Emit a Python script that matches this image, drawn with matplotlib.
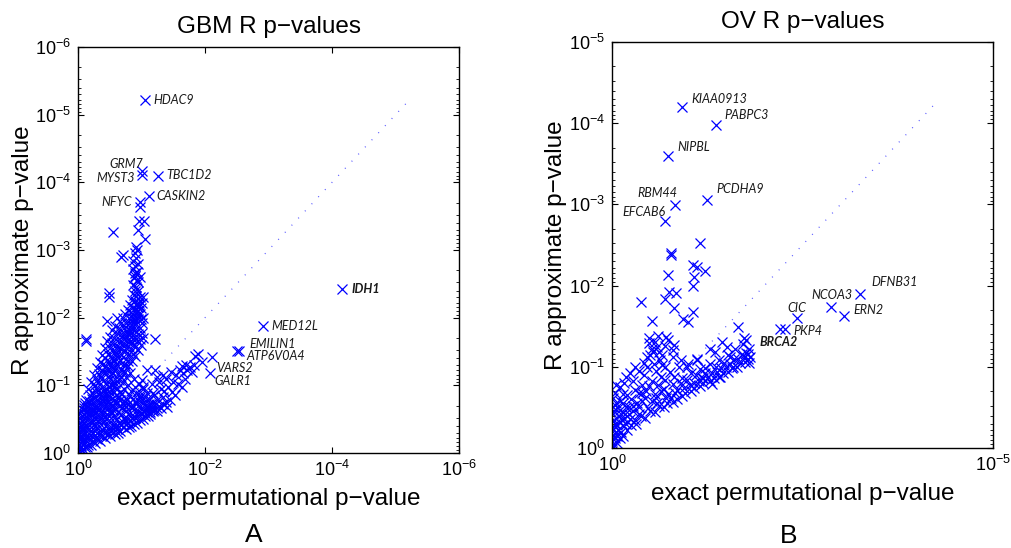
import numpy as np
import matplotlib
matplotlib.use('Agg')
import matplotlib.pyplot as plt
from matplotlib.ticker import FixedLocator, LogLocator, NullLocator, LogFormatterSciNotation

plt.rcParams['font.family'] = ['Liberation Sans', 'DejaVu Sans']
plt.rcParams['mathtext.fontset'] = 'custom'
plt.rcParams['mathtext.rm'] = 'Liberation Sans'
plt.rcParams['mathtext.it'] = 'Liberation Sans:italic'
plt.rcParams['mathtext.bf'] = 'Liberation Sans:bold'

# values are -log10(p): (exact permutational, R approximate)
gbm_pts = [
    # lower band
    (0.00,0.05),(0.03,0.02),(0.08,0.06),(0.14,0.09),(0.20,0.12),(0.27,0.15),(0.34,0.18),(0.42,0.22),
    (0.50,0.25),(0.58,0.28),(0.66,0.32),(0.75,0.36),(0.84,0.40),(0.93,0.45),(1.02,0.50),(1.10,0.55),
    (0.10,0.14),(0.18,0.20),(0.26,0.26),(0.35,0.30),(0.44,0.34),(0.52,0.38),(0.61,0.42),(0.70,0.46),
    (0.79,0.50),(0.88,0.55),(0.96,0.60),(1.05,0.63),(1.12,0.66),(1.18,0.62),
    (0.12,0.25),(0.21,0.32),(0.30,0.38),(0.40,0.44),(0.49,0.48),(0.58,0.53),(0.67,0.57),(0.76,0.62),
    (0.85,0.66),(0.94,0.70),(1.02,0.74),
    (0.35,0.52),(0.46,0.58),(0.55,0.63),(0.65,0.70),(0.74,0.76),(0.86,0.80),(0.97,0.85),
    (0.63,0.30),(0.71,0.39),(0.77,0.44),(0.82,0.47),(0.89,0.51),(0.91,0.62),(0.99,0.66),(1.05,0.70),
    (1.09,0.60),(1.13,0.57),(1.16,0.68),(0.81,0.38),(0.88,0.43),(0.98,0.48),(1.06,0.54),(1.14,0.61),
    (1.20,0.64),(1.24,0.66),(1.28,0.70),(1.22,0.72),
    (0.60,0.40),(0.66,0.44),(0.74,0.48),(0.85,0.52),(0.95,0.55),(1.08,0.68),(1.16,0.63),(1.25,0.62),
    (1.30,0.66),(1.00,0.58),(0.75,0.68),(0.79,0.72),(0.87,0.70),(0.93,0.74),(1.00,0.78),
    # core near origin
    (0.00,0.12),(0.01,0.20),(0.00,0.28),(0.02,0.36),(0.01,0.44),(0.03,0.52),(0.02,0.60),(0.05,0.10),
    (0.06,0.18),(0.05,0.27),(0.07,0.35),(0.06,0.43),(0.08,0.50),(0.09,0.58),(0.10,0.66),(0.11,0.74),
    (0.12,0.40),(0.14,0.48),(0.16,0.56),(0.18,0.64),(0.20,0.72),(0.22,0.80),(0.17,0.35),(0.22,0.44),
    (0.25,0.52),(0.28,0.60),(0.30,0.68),(0.33,0.76),(0.36,0.84),(0.26,0.40),(0.32,0.47),(0.38,0.58),
    (0.42,0.66),(0.44,0.74),(0.47,0.82),(0.50,0.90),(0.40,0.92),(0.52,0.70),(0.56,0.78),(0.60,0.86),
    (0.62,0.95),(0.54,1.00),
    (0.02,0.07),(0.04,0.15),(0.03,0.24),(0.05,0.32),(0.04,0.40),(0.07,0.47),(0.06,0.55),(0.08,0.63),
    (0.09,0.71),(0.12,0.78),(0.07,0.04),(0.11,0.09),(0.09,0.20),(0.11,0.30),(0.13,0.37),(0.10,0.45),
    (0.12,0.53),(0.14,0.61),(0.15,0.70),(0.17,0.77),(0.19,0.85),(0.16,0.12),(0.15,0.22),(0.19,0.27),
    (0.18,0.42),(0.20,0.49),(0.21,0.58),(0.23,0.66),(0.25,0.74),(0.27,0.83),(0.29,0.90),(0.23,0.17),
    (0.24,0.23),(0.27,0.33),(0.29,0.45),(0.31,0.55),(0.33,0.63),(0.35,0.71),(0.38,0.79),(0.41,0.86),
    (0.44,0.95),(0.30,0.21),(0.33,0.27),(0.37,0.36),(0.39,0.50),(0.41,0.61),(0.45,0.69),(0.48,0.77),
    (0.51,0.83),(0.55,0.91),(0.58,0.99),(0.38,0.25),(0.42,0.30),(0.46,0.41),(0.49,0.55),(0.53,0.60),
    (0.57,0.68),(0.61,0.75),(0.64,0.82),(0.68,0.87),(0.47,0.28),(0.51,0.33),(0.55,0.40),(0.60,0.48),
    (0.63,0.61),(0.69,0.66),(0.73,0.71),(0.77,0.80),(0.55,0.31),(0.62,0.36),(0.68,0.41),(0.72,0.52),
    (0.80,0.58),(0.83,0.70),(0.90,0.76),(0.95,0.79),
    (0.04,0.20),(0.08,0.27),(0.08,0.38),(0.12,0.60),(0.16,0.68),(0.20,0.60),(0.24,0.58),(0.26,0.68),
    (0.30,0.78),(0.34,0.88),(0.37,0.98),(0.36,0.62),(0.40,0.72),(0.43,0.80),(0.46,0.88),(0.48,0.97),
    (0.44,0.50),(0.50,0.62),(0.54,0.70),(0.58,0.76),(0.66,0.78),(0.70,0.74),
    # steep upper branch
    (0.24,0.88),(0.28,0.96),(0.32,1.04),(0.36,1.12),(0.40,1.20),(0.44,1.28),(0.48,1.36),(0.52,1.44),
    (0.56,1.52),(0.60,1.60),(0.64,1.68),(0.68,1.76),(0.72,1.84),(0.76,1.92),(0.80,2.00),(0.84,2.08),
    (0.87,2.16),(0.90,2.24),(0.92,2.32),(0.94,2.40),
    (0.45,1.02),(0.50,1.10),(0.55,1.18),(0.60,1.26),(0.65,1.34),(0.70,1.42),(0.74,1.50),(0.78,1.58),
    (0.82,1.66),(0.86,1.74),(0.89,1.82),(0.92,1.90),(0.95,1.98),(0.97,2.06),(0.99,2.14),(1.00,2.22),
    (0.26,1.00),(0.30,1.08),(0.33,1.16),(0.37,1.22),(0.40,1.31),(0.43,1.40),(0.47,1.47),(0.51,1.55),
    (0.54,1.62),(0.57,1.70),(0.61,1.77),(0.64,1.84),(0.67,1.92),(0.71,1.99),(0.74,2.05),(0.78,2.12),
    (0.82,2.18),(0.85,2.26),(0.88,2.33),(0.90,2.40),
    (0.40,1.06),(0.46,1.18),(0.52,1.27),(0.57,1.38),(0.62,1.47),(0.66,1.55),(0.71,1.63),(0.75,1.71),
    (0.79,1.78),(0.83,1.85),(0.86,1.92),(0.88,2.00),(0.91,2.08),(0.94,2.15),(0.96,2.22),(0.98,2.30),
    (0.52,1.00),(0.58,1.09),(0.63,1.16),(0.67,1.24),(0.72,1.32),(0.76,1.39),(0.80,1.47),(0.84,1.54),
    (0.88,1.61),(0.91,1.69),(0.94,1.76),(0.97,1.84),(1.00,1.92),(1.02,2.00),
    (0.68,1.12),(0.74,1.20),(0.79,1.29),(0.85,1.36),(0.90,1.44),(0.94,1.52),(0.99,1.60),(1.03,1.70),
    (0.70,1.50),(0.73,1.58),(0.77,1.66),(0.81,1.74),(0.84,1.80),(0.87,1.88),(0.90,1.96),(0.93,2.04),
    (0.95,2.10),(0.96,2.18),(0.63,1.40),(0.60,1.32),(0.56,1.25),(0.53,1.18),(0.49,1.12),(0.83,1.62),
    (0.87,1.68),(0.90,1.56),(0.86,1.46),(0.78,1.36),(0.74,1.28),(0.70,1.20),(0.64,1.08),(0.58,1.03),
    (0.97,1.68),(1.01,1.78),(0.99,1.98),(0.93,2.20),(0.89,2.10),(0.85,2.00),(0.82,1.92),(0.78,1.83),
    (0.74,1.76),(0.70,1.70),(0.66,1.62),(0.62,1.54),(0.58,1.46),(0.55,1.38),(0.50,1.30),(0.46,1.22),
    (0.15,0.95),(0.20,1.05),(0.25,1.15),(0.30,1.25),(0.34,1.35),(0.38,1.45),(0.42,1.55),(0.46,1.65),
    (0.50,1.72),(0.53,1.82),(0.58,1.88),(0.48,2.36),(0.48,2.30),(0.62,2.00),(0.45,1.95),
    (0.92,2.46),(0.95,2.52),(0.88,2.58),(0.90,2.62),(0.93,2.68),(0.87,2.72),(0.90,2.76),(0.92,2.88),
    (0.70,2.92),(0.68,2.90),(0.89,2.95),(0.92,3.04),(0.55,3.26),(0.94,3.29),(1.06,3.16),(0.96,3.43),
    (1.04,3.43),(0.97,3.64),(1.02,2.30),(0.86,2.48),(0.93,2.55),(0.89,2.66),(0.95,2.80),(0.86,2.84),
    (0.93,3.00),(0.98,2.60),
    # middle region
    (0.66,0.90),(0.72,0.95),(0.78,1.00),(0.84,0.92),(0.90,0.98),(0.96,1.02),(1.02,0.95),(0.70,1.05),
    (0.76,1.12),(0.82,1.18),(0.88,1.10),(1.00,1.08),(1.08,0.88),(1.12,0.80),(1.05,0.82),(0.92,0.88),
    (0.80,0.85),
    # lower-right scatter
    (1.15,0.72),(1.20,0.85),(1.25,0.78),(1.30,0.95),(1.33,0.83),(1.38,0.75),(1.45,0.78),(1.39,1.10),
    (1.21,1.23),(1.08,1.23),(1.24,1.13),(1.34,1.15),(1.03,0.98),(1.18,0.88),(0.98,0.83),(1.11,0.73),
    (1.63,1.29),(1.60,1.23),(1.76,1.27),(1.79,1.19),(1.63,0.98),(1.84,1.43),(1.89,1.47),(1.95,1.35),
    (1.70,1.30),(1.55,1.15),(1.50,1.05),(1.68,1.10),(1.47,1.20),(1.28,1.05),(1.16,1.02),(1.21,1.68),
    (1.35,0.92),(1.42,0.98),(1.48,0.90),(1.52,0.85),(1.58,1.02),(1.65,1.18),(1.72,1.22),(1.82,1.30),
    (1.40,0.68),(1.33,0.72),
    (0.12,1.65),(0.13,1.69),
]
gbm_genes = ['HDAC9', 'GRM7', 'MYST3', 'TBC1D2', 'CASKIN2', 'NFYC', 'IDH1',
             'MED12L', 'EMILIN1', 'ATP6V0A4', 'VARS2', 'GALR1']
gbm_gene_exact = [1.06, 1.00, 1.00, 1.26, 1.11, 0.97, 4.16, 2.92, 2.54, 2.51, 2.11, 2.07]
gbm_gene_approx = [5.21, 4.17, 4.11, 4.10, 3.80, 3.71, 2.42, 1.88, 1.51, 1.50, 1.42, 1.18]

ov_pts = [
    (0.02,0.03),(0.10,0.12),(0.20,0.22),(0.32,0.30),(0.44,0.37),(0.56,0.44),(0.68,0.50),(0.80,0.57),
    (0.92,0.64),(1.04,0.70),(1.16,0.76),(1.28,0.82),(1.40,0.88),(1.52,0.94),(1.64,1.00),(1.74,1.06),
    (1.81,1.12),
    (0.05,0.20),(0.14,0.28),(0.24,0.36),(0.35,0.42),(0.47,0.49),(0.59,0.55),(0.71,0.61),(0.83,0.68),
    (0.95,0.74),(1.07,0.80),(1.19,0.86),(1.31,0.92),(1.43,0.98),(1.55,1.04),(1.66,1.10),(1.76,1.17),
    (1.80,1.22),
    (0.03,0.35),(0.12,0.42),(0.22,0.50),(0.33,0.56),(0.44,0.62),(0.56,0.67),(0.68,0.73),(0.80,0.79),
    (0.92,0.86),(1.04,0.92),(1.16,0.97),(1.28,1.03),(1.40,1.08),(1.52,1.15),(1.62,1.22),(1.72,1.28),
    (0.02,0.50),(0.10,0.58),(0.20,0.65),(0.30,0.72),(0.40,0.78),(0.52,0.83),(0.64,0.88),(0.76,0.94),
    (0.88,1.00),(1.00,1.04),(1.12,1.08),
    (0.00,0.08),(0.01,0.16),(0.00,0.25),(0.02,0.42),(0.04,0.12),(0.07,0.28),(0.06,0.06),(0.15,0.15),
    (0.09,0.40),(0.16,0.36),(0.25,0.28),(0.18,0.50),
    (0.01,0.05),(0.03,0.13),(0.02,0.22),(0.04,0.29),(0.01,0.33),(0.03,0.45),(0.05,0.55),(0.02,0.62),
    (0.04,0.68),(0.06,0.15),(0.08,0.22),(0.09,0.32),(0.07,0.50),(0.11,0.47),(0.13,0.35),(0.12,0.20),
    (0.18,0.30),(0.17,0.42),(0.15,0.55),(0.14,0.66),(0.22,0.42),(0.27,0.45),(0.25,0.60),(0.28,0.52),
    (0.30,0.35),(0.38,0.40),(0.36,0.50),(0.40,0.58),(0.35,0.68),(0.45,0.70),(0.50,0.45),(0.52,0.58),
    (0.48,0.76),(0.58,0.62),(0.62,0.52),(0.60,0.78),(0.65,0.70),(0.72,0.55),(0.74,0.67),(0.70,0.84),
    (0.78,0.62),(0.85,0.72),(0.86,0.60),(0.82,0.88),(0.90,0.80),(0.96,0.68),(0.98,0.84),(1.02,0.78),
    (1.08,0.74),(1.10,0.90),(1.14,0.82),(1.20,0.80),(1.22,0.98),(1.26,0.88),(1.34,0.86),(1.36,1.00),
    (1.38,0.94),(1.46,0.92),(1.47,1.05),(1.50,1.00),(1.58,0.98),(1.60,1.10),(1.68,1.05),(1.70,1.16),
    (1.78,1.16),(1.80,1.05),(0.10,0.75),(0.28,0.82),(0.42,0.90),(0.58,0.95),(0.66,1.02),(0.90,1.08),
    (0.30,1.00),(0.16,0.80),(0.40,0.68),
    (0.05,0.77),(0.19,0.88),(0.24,0.92),(0.46,1.00),(0.63,1.08),(0.80,1.12),(0.35,0.95),(0.55,1.03),
    (0.70,1.00),(0.42,1.05),(0.50,1.15),(0.62,1.18),(0.66,1.14),(0.52,1.22),(0.70,1.26),(0.60,1.38),
    (0.48,1.36),
    (0.38,1.80),(0.69,1.84),(0.75,1.92),(0.84,1.91),(0.81,1.72),(0.93,1.59),(1.00,1.55),(1.06,1.67),
    (0.53,1.56),(0.71,1.37),(0.74,1.33),(0.48,1.29),(0.56,1.31),(0.59,1.24),(0.81,1.27),(0.80,1.21),
    (0.54,1.18),(0.46,1.12),
    (1.66,1.49),(1.73,1.35),(1.76,1.33),(1.79,1.10),(1.73,1.12),(1.44,1.31),(1.51,1.24),(1.55,1.12),
    (1.35,1.18),(1.29,1.22),(1.59,1.00),(1.42,0.88),(1.22,0.92),(1.11,1.10),(0.98,1.00),(1.18,0.86),
    (1.31,0.79),
    (0.73,2.13),(1.07,2.11),(1.06,2.25),(1.11,2.23),(1.22,2.18),(1.15,2.52),(0.77,2.40),(0.77,2.38),
    (1.06,2.00),
]
ov_genes = ['KIAA0913', 'PABPC3', 'NIPBL', 'RBM44', 'PCDHA9', 'EFCAB6',
            'DFNB31', 'NCOA3', 'ERN2', 'CIC', 'PKP4', 'BRCA2']
ov_gene_exact = [0.92, 1.36, 0.74, 0.83, 1.25, 0.69, 3.25, 2.87, 3.04, 2.43, 2.27, 2.21]
ov_gene_approx = [4.20, 3.98, 3.59, 2.99, 3.05, 2.80, 1.90, 1.74, 1.63, 1.60, 1.47, 1.46]

# label placement: (dx, dy) in pixels, horizontal alignment
gbm_offsets = {'HDAC9': (8, 0, 'left'), 'GRM7': (2, 7, 'right'), 'MYST3': (-7, -3, 'right'),
               'TBC1D2': (8, 1, 'left'), 'CASKIN2': (8, 0, 'left'), 'NFYC': (-8, 0, 'right'),
               'IDH1': (9, 0, 'left'), 'MED12L': (8, 0, 'left'), 'EMILIN1': (10, 7, 'left'),
               'ATP6V0A4': (9, -5, 'left'), 'VARS2': (4, -11, 'left'), 'GALR1': (5, -8, 'left')}
ov_offsets = {'KIAA0913': (9, 8, 'left'), 'PABPC3': (9, 10, 'left'), 'NIPBL': (9, 9, 'left'),
              'RBM44': (2, 12, 'right'), 'PCDHA9': (9, 11, 'left'), 'EFCAB6': (1, 9, 'right'),
              'DFNB31': (12, 12, 'left'), 'NCOA3': (1, 12, 'center'), 'ERN2': (10, 6, 'left'),
              'CIC': (0, 10, 'center'), 'PKP4': (8, -2, 'left'), 'BRCA2': (-2, -13, 'center')}
bold_genes = ['IDH1', 'BRCA2']


def panel(ax, pts, genes, gx, gy, offsets, top, diag, xticks, title):
    ex = 10.0 ** -np.array([p[0] for p in pts])
    ap = 10.0 ** -np.array([p[1] for p in pts])
    ax.plot([1, 10.0 ** -diag], [1, 10.0 ** -diag], color='#5a5aff', lw=0.9,
            ls=(0, (0.8, 7)), zorder=1)
    ax.plot(ex, ap, 'x', color='blue', ms=6.5, mew=0.9, zorder=2)
    gex = 10.0 ** -np.array(gx)
    gap = 10.0 ** -np.array(gy)
    ax.plot(gex, gap, 'x', color='blue', ms=6.5, mew=0.9, zorder=2)
    for g, x, y in zip(genes, gex, gap):
        dx, dy, ha = offsets[g]
        ax.annotate(g, (x, y), xytext=(dx, dy), textcoords='offset pixels',
                    ha=ha, va='center', fontsize=9, style='italic',
                    fontweight='bold' if g in bold_genes else 'normal',
                    family=['Lato', 'DejaVu Sans'], color='#1a1a1a')
    ax.set_xscale('log')
    ax.set_yscale('log')
    ax.set_xlim(1, 10.0 ** -top[0])
    ax.set_ylim(1, 10.0 ** -top[1])
    ax.xaxis.set_major_locator(FixedLocator([10.0 ** -t for t in xticks]))
    ax.xaxis.set_minor_locator(NullLocator())
    ax.yaxis.set_major_locator(FixedLocator([10.0 ** -t for t in range(top[1] + 1)]))
    ax.yaxis.set_minor_locator(LogLocator(base=10, subs=np.arange(2, 10)))
    ax.xaxis.set_major_formatter(LogFormatterSciNotation())
    ax.yaxis.set_major_formatter(LogFormatterSciNotation())
    ax.tick_params(which='both', direction='in', top=True, right=True, labelsize=13)
    ax.tick_params(which='major', length=4, width=0.8, pad=5)
    ax.tick_params(which='minor', length=2, width=0.6)
    for s in ax.spines.values():
        s.set_linewidth(1.0)
    ax.set_title(title, fontsize=17.5, pad=10)
    ax.set_xlabel('exact permutational p\u2212value', fontsize=17.5, labelpad=6)
    ax.set_ylabel('R approximate p\u2212value', fontsize=17.5, labelpad=1)


fig = plt.figure(figsize=(10.11, 5.48), dpi=100)
ax1 = fig.add_axes([0.0772, 0.1734, 0.3769, 0.7409])
ax2 = fig.add_axes([0.6053, 0.1825, 0.3769, 0.7409])

panel(ax1, gbm_pts, gbm_genes, gbm_gene_exact, gbm_gene_approx, gbm_offsets,
      (6, 6), 5.2, [0, 2, 4, 6], 'GBM R p\u2212values')
panel(ax2, ov_pts, ov_genes, ov_gene_exact, ov_gene_approx, ov_offsets,
      (5, 5), 4.22, [0, 5], 'OV R p\u2212values')

fig.text(254 / 1011, 1 - 535 / 548, 'A', ha='center', va='center', fontsize=19)
fig.text(789 / 1011, 1 - 536 / 548, 'B', ha='center', va='center', fontsize=19)

fig.savefig('out.png', dpi=100)
